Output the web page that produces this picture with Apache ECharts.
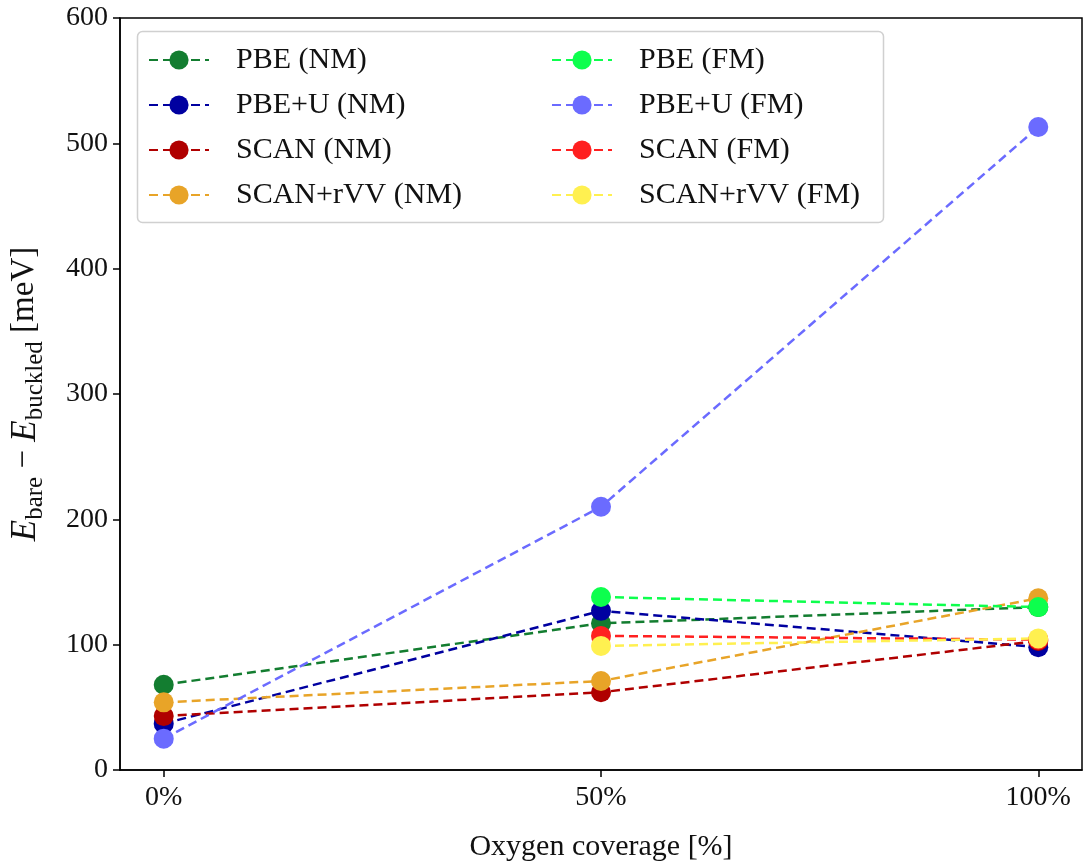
<!DOCTYPE html>
<html>
<head>
<meta charset="utf-8">
<script src="https://cdn.jsdelivr.net/npm/echarts@6/dist/echarts.min.js"></script>
<style>
html,body{margin:0;padding:0;background:#fff;}
#chart{width:1083px;height:863px;}
</style>
</head>
<body>
<div id="chart"></div>
<script>
const coverage = [0, 50, 100];
const xTickValues = [0, 50, 100];
const seriesNames = ['PBE (NM)', 'PBE+U (NM)', 'SCAN (NM)', 'SCAN+rVV (NM)', 'PBE (FM)', 'PBE+U (FM)', 'SCAN (FM)', 'SCAN+rVV (FM)'];
const pbeNM = [68, 117, 130];
const pbeuNM = [37, 127, 98];
const scanNM = [43, 62, 103];
const scanrvvNM = [54, 71, 137];
const pbeFM = [null, 138, 130];
const pbeuFM = [25, 210, 513];
const scanFM = [null, 107, 104];
const scanrvvFM = [null, 99, 105];
const seriesValues = [pbeNM, pbeuNM, scanNM, scanrvvNM, pbeFM, pbeuFM, scanFM, scanrvvFM];
const colors = ['#137d30', '#0000a0', '#b00000', '#e8a428', '#0dff4d', '#6b6bff', '#ff2020', '#fff050'];

const FONT = 'Liberation Serif';
const chart = echarts.init(document.getElementById('chart'));

const series = seriesNames.map((name, i) => ({
  name: name,
  type: 'line',
  data: coverage.map((c, j) => [c, seriesValues[i][j]]),
  symbol: 'circle',
  symbolSize: 20,
  showSymbol: true,
  connectNulls: false,
  itemStyle: { color: colors[i] },
  lineStyle: { color: colors[i], width: 2.5, type: [9, 5] },
  emphasis: { disabled: true },
  animation: false
}));

const legendCommon = {
  orient: 'vertical',
  top: 40,
  itemWidth: 60,
  itemHeight: 24,
  itemGap: 15,
  textStyle: { fontFamily: FONT, fontSize: 30, color: '#111', lineHeight: 27, padding: [0, 0, 0, 22] },
  selectedMode: false,
  z: 5
};

chart.setOption({
  backgroundColor: '#fff',
  animation: false,
  grid: { left: 120, right: 1, top: 18, bottom: 93, show: true, borderColor: '#000', borderWidth: 1.5, backgroundColor: 'transparent', outerBoundsMode: 'none', containLabel: false },
  xAxis: {
    type: 'value',
    min: -5,
    max: 105,
    name: 'Oxygen coverage [%]',
    nameLocation: 'middle',
    nameGap: 62,
    nameTextStyle: { fontFamily: FONT, fontSize: 30, color: '#111' },
    axisLine: { show: true, onZero: false, lineStyle: { color: '#000', width: 1.5 } },
    axisTick: { show: true, inside: false, length: 7, lineStyle: { color: '#000', width: 1.5 }, customValues: xTickValues },
    axisLabel: { fontFamily: FONT, fontSize: 28, color: '#111', margin: 14, customValues: xTickValues, formatter: v => v + '%' },
    splitLine: { show: false }
  },
  yAxis: {
    type: 'value',
    min: 0,
    max: 600,
    interval: 100,
    name: '{i|E}{s|bare}{n| − }{i|E}{s|buckled}{n| [meV]}',
    nameLocation: 'middle',
    nameRotate: 90,
    nameGap: 77,
    nameTextStyle: {
      fontFamily: FONT, fontSize: 32, color: '#111',
      rich: {
        i: { fontFamily: FONT, fontSize: 35, fontStyle: 'italic', color: '#111', lineHeight: 35, verticalAlign: 'top' },
        s: { fontFamily: FONT, fontSize: 25, color: '#111', lineHeight: 25, padding: [15, 0, 0, 0], verticalAlign: 'top' },
        n: { fontFamily: FONT, fontSize: 33, color: '#111', lineHeight: 35, verticalAlign: 'top' }
      }
    },
    axisLine: { show: true, onZero: false, lineStyle: { color: '#000', width: 1.5 } },
    axisTick: { show: true, inside: false, length: 7, lineStyle: { color: '#000', width: 1.5 } },
    axisLabel: { fontFamily: FONT, fontSize: 28, color: '#111', margin: 12 },
    splitLine: { show: false }
  },
  legend: [
    Object.assign({}, legendCommon, { left: 143, data: seriesNames.slice(0, 4) }),
    Object.assign({}, legendCommon, { left: 546, data: seriesNames.slice(4, 8) })
  ],
  graphic: [{
    type: 'rect',
    z: 3,
    shape: { x: 137.5, y: 31.5, width: 746, height: 191, r: 5 },
    style: { fill: 'rgba(255,255,255,0.8)', stroke: '#d0d0d0', lineWidth: 1.5 }
  }],
  series: series
});
</script>
</body>
</html>
